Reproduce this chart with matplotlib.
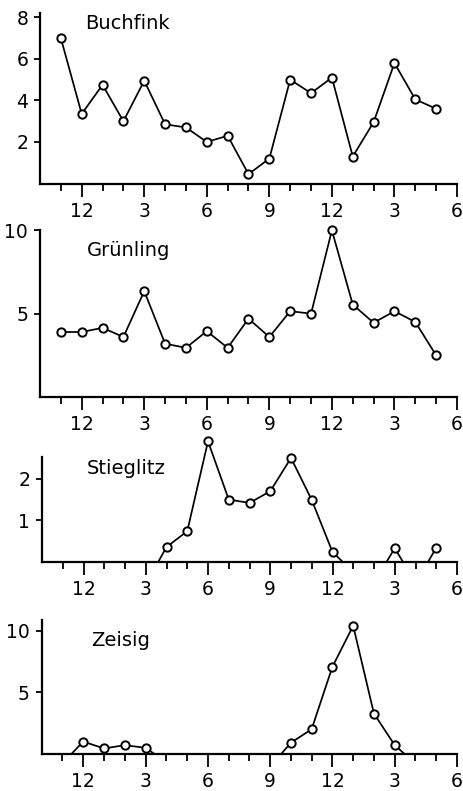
import numpy as np
import matplotlib
matplotlib.use("Agg")
import matplotlib.pyplot as plt

plt.rcParams["font.family"] = "DejaVu Sans"

# Monate als Index: 1 = Nov, 2 = Dez, ... 19 = Mai (uebernaechstes Jahr)
monat = list(range(1, 20))

buchfink = [7.0, 3.35, 4.75, 3.0, 4.95, 2.85, 2.7, 2.0, 2.3, 0.45,
            1.2, 5.0, 4.35, 5.1, 1.3, 2.95, 5.8, 4.05, 3.6]
gruenling = [3.9, 3.9, 4.15, 3.6, 6.35, 3.2, 2.95, 3.95, 2.95, 4.7,
             3.6, 5.15, 5.0, 10.0, 5.55, 4.45, 5.15, 4.5, 2.5]

# Stieglitz / Zeisig: Linie laeuft zwischen den Monaten auf 0 aus
stieglitz_t = [5.6, 6, 7, 8, 9, 10, 11, 12, 13, 14, 14.5, 16.6, 17, 17.4, 18.6, 19]
stieglitz_v = [0, 0.36, 0.74, 2.9, 1.5, 1.42, 1.7, 2.5, 1.49, 0.24, 0, 0, 0.33, 0, 0, 0.34]
zeisig_t = [1.45, 2, 3, 4, 5, 5.4, 11.55, 12, 13, 14, 15, 16, 17, 17.45]
zeisig_v = [0, 0.97, 0.41, 0.68, 0.46, 0, 0, 0.87, 1.98, 7.06, 10.4, 3.25, 0.68, 0]

major_pos = [2, 5, 8, 11, 14, 17, 20]
major_lab = ["12", "3", "6", "9", "12", "3", "6"]
minor_pos = [m for m in range(1, 20) if m not in major_pos]

W, H = 463, 791
fig = plt.figure(figsize=(W / 100, H / 100), dpi=100)
fig.patch.set_facecolor("white")


def split_zero_runs(t, v):
    # Strecken 0 -> 0 nicht zeichnen (liegen auf der Achse)
    tt, vv = [t[0]], [v[0]]
    for i in range(1, len(t)):
        if v[i - 1] == 0 and v[i] == 0:
            tt.append(np.nan)
            vv.append(np.nan)
        tt.append(t[i])
        vv.append(v[i])
    return tt, vv


def panel(left, top, bottom, ytop, yticks, name, name_xy, t, v):
    right = 457
    ax = fig.add_axes([left / W, 1 - bottom / H, (right - left) / W, (bottom - top) / H])
    t = np.asarray(t, float)
    v = np.asarray(v, float)
    lt, lv = split_zero_runs(t, v)
    ax.plot(lt, lv, color="black", lw=1.25, clip_on=False, zorder=2)
    m = v > 0
    ax.plot(t[m], v[m], "o", ms=6, mfc="white", mec="black", mew=1.4,
            clip_on=False, zorder=4)
    ax.set_xlim(0, 20)
    ax.set_ylim(0, ytop)
    for s in ("top", "right"):
        ax.spines[s].set_visible(False)
    for s in ("left", "bottom"):
        ax.spines[s].set_linewidth(1.6)
        ax.spines[s].set_zorder(3)
    ax.set_xticks(major_pos)
    ax.set_xticklabels(major_lab)
    ax.set_xticks(minor_pos, minor=True)
    ax.set_yticks(yticks)
    ax.set_yticklabels([str(y) for y in yticks])
    ax.tick_params(axis="x", which="major", direction="out", length=9, width=1.3,
                   pad=4, labelsize=13.5)
    ax.tick_params(axis="x", which="minor", direction="out", length=5, width=1.3)
    ax.tick_params(axis="y", direction="out", length=4.5, width=1.3, pad=4,
                   labelsize=13.5)
    ax.text(name_xy[0], name_xy[1], name, fontsize=14, ha="left", va="baseline")
    ax.patch.set_alpha(0)
    return ax


panel(40, 13.2, 183.5, 8.2, [2, 4, 6, 8], "Buchfink", (2.15, 7.43), monat, buchfink)
panel(40, 229.5, 397, 10.05, [5, 10], "Grünling", (2.25, 8.48), monat, gruenling)
panel(42, 456.7, 562, 2.53, [1, 2], "Stieglitz", (2.17, 2.12), stieglitz_t, stieglitz_v)
panel(41.7, 620, 753.5, 10.87, [5, 10], "Zeisig", (2.37, 8.78), zeisig_t, zeisig_v)

fig.savefig("out.png", dpi=100, facecolor="white")
